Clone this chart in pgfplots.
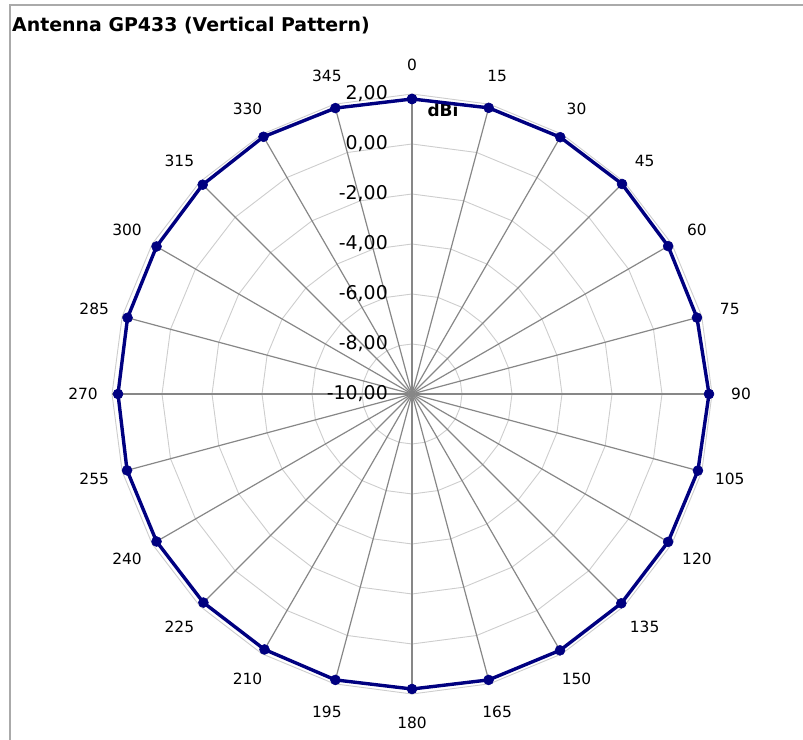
\documentclass[border=0pt]{standalone}
\usepackage{pgfplots}
\pgfplotsset{compat=1.18}
\usepackage{pgfplotstable}
\usepackage{fontspec}
\setmainfont{DejaVu Sans}
\definecolor{navyline}{RGB}{0,0,128}
\definecolor{spoke}{RGB}{135,135,135}
\definecolor{ring}{RGB}{205,205,205}
\definecolor{frame}{RGB}{170,170,170}

% angle (deg, clockwise from top), gain (dBi)
\pgfplotstableread{
a v
0 1.80
15 1.85
30 1.86
45 1.88
60 1.83
75 1.80
90 1.88
105 1.84
120 1.83
135 1.84
150 1.84
165 1.84
180 1.80
195 1.84
210 1.80
225 1.80
240 1.80
255 1.80
270 1.76
285 1.78
300 1.80
315 1.84
330 1.88
345 1.84
360 1.80
}\gaintable

\begin{document}
\begin{tikzpicture}
\begin{axis}[
  x=1bp, y=1bp,
  xmin=-412, xmax=391, ymin=-346, ymax=394,
  hide axis, clip=false,
]
% frame
\draw[frame, line width=1.5bp] (axis cs:391,389) -- (axis cs:-402,389) -- (axis cs:-402,-346);
% title
\node[anchor=base west, inner sep=0pt, font=\fontsize{19}{21}\selectfont\bfseries] at (axis cs:-400,362) {Antenna GP433 (Vertical Pattern)};
% rings (polygonal)
\pgfplotsinvokeforeach{50,100,150,200,250,300}{
  \draw[ring, line width=0.9bp] (axis cs:0,#1) \foreach \a in {15,30,...,345} { -- (axis cs:{#1*sin(\a)},{#1*cos(\a)}) } -- cycle;
}
% spokes
\pgfplotsinvokeforeach{0,15,30,45,60,75,90,105,120,135,150,165,180,195,210,225,240,255,270,285,300,315,330,345}{
  \draw[spoke, line width=1.2bp] (axis cs:0,0) -- (axis cs:{300*sin(#1)},{300*cos(#1)});
  \node[font=\fontsize{15.5}{17}\selectfont, text=black] at (axis cs:{329*sin(#1)},{329*cos(#1)}) {#1};
}
% value labels
\pgfplotsinvokeforeach{0,1,2,3,4,5,6}{
  \node[anchor=east, inner sep=0pt, font=\fontsize{19}{21}\selectfont, text=black] at (axis cs:-24,{50*#1}) {\pgfmathparse{int(-10+2*#1)}\pgfmathresult,00};
}
\node[font=\fontsize{17}{19}\selectfont\bfseries, text=black] at (axis cs:31,284) {dBi};
% data
\addplot[navyline, line width=3.4bp, mark=*, mark size=5bp, mark options={fill=navyline, draw=navyline, line width=0.5bp}]
  table[x expr={25*(\thisrow{v}+10)*sin(\thisrow{a})}, y expr={25*(\thisrow{v}+10)*cos(\thisrow{a})}] {\gaintable};
\coordinate (ll) at (axis cs:-412,-346);
\coordinate (ur) at (axis cs:391,394);
\end{axis}
\pgfresetboundingbox
\path (ll) rectangle (ur);
\end{tikzpicture}
\end{document}
